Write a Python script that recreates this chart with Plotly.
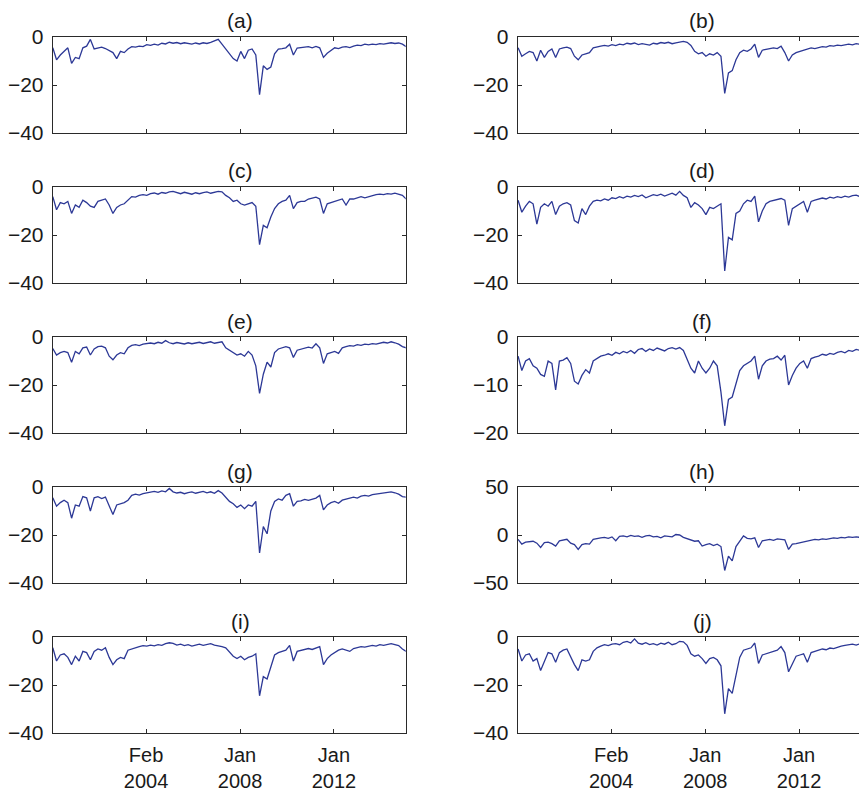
import plotly.graph_objects as go

# trading-day index of each sample (x axis), 95 samples
day_index = list(range(8, 3769, 40))

panel_labels = ["(a)", "(b)", "(c)", "(d)", "(e)", "(f)", "(g)", "(h)", "(i)", "(j)"]

x_tick_vals = [1000, 2000, 3000]
x_tick_text = ["Feb<br>2004", "Jan<br>2008", "Jan<br>2012"]

y_ticks_std = [-40, -20, 0]
y_ticks_f = [-20, -10, 0]
y_ticks_h = [-50, 0, 50]

series_a = [-4.5, -9.5, -7.5, -6.0, -4.5, -11.0, -8.5, -9.0, -4.5, -3.8, -1.0, -5.0, -4.5, -4.2, -4.8, -5.8, -6.5, -9.0, -6.0, -6.5,
            -5.0, -4.0, -4.2, -3.8, -4.0, -3.2, -3.5, -3.0, -3.4, -2.6, -2.9, -2.2, -2.6, -2.3, -2.8, -2.4, -2.7, -3.0, -2.5, -2.9,
            -2.4, -2.7, -2.2, -1.5, -1.0, -3.0, -5.0, -6.5, -9.0, -10.0, -6.0, -9.0, -5.5, -5.0, -7.5, -24.0, -12.0, -13.5, -12.5, -7.0,
            -5.0, -4.8, -4.5, -3.0, -7.5, -4.6, -4.5, -4.4, -4.0, -4.5, -3.9, -4.5, -8.5, -6.8, -5.5, -4.5, -4.8, -4.2, -4.0, -4.4,
            -3.8, -3.4, -3.6, -3.0, -3.3, -3.0, -3.2, -2.8, -3.0, -2.6, -2.4, -2.7, -2.5, -3.0, -4.0]

series_b = [-4.5, -8.0, -7.0, -6.0, -6.5, -10.0, -5.5, -8.5, -6.0, -5.0, -8.5, -5.0, -4.5, -4.2, -4.8, -8.0, -9.5, -7.5, -7.0, -6.5,
            -4.5, -4.0, -3.8, -3.5, -3.8, -3.2, -3.6, -3.0, -3.3, -2.6, -2.9, -2.5, -3.2, -2.8, -3.0, -3.4, -2.6, -2.9, -2.3, -2.6,
            -2.2, -2.8, -2.4, -2.0, -1.8, -2.2, -3.5, -6.0, -7.0, -6.5, -8.0, -7.0, -7.5, -6.5, -8.0, -23.5, -15.0, -14.0, -9.5, -6.5,
            -5.5, -6.0, -5.0, -3.0, -8.5, -5.5, -5.0, -4.8, -4.5, -4.8, -3.8, -6.5, -10.0, -7.5, -6.5, -6.0, -5.5, -4.8, -4.5, -4.8,
            -4.4, -4.0, -4.2, -3.6, -3.8, -3.4, -3.6, -3.2, -3.0, -3.3, -2.8, -3.0, -2.7, -3.2, -3.5]

series_c = [-4.0, -9.5, -6.5, -7.0, -6.0, -11.0, -7.5, -8.5, -5.5, -6.5, -8.0, -8.5, -6.0, -5.5, -5.0, -7.5, -11.0, -8.5, -7.5, -7.0,
            -5.5, -4.0, -4.2, -3.5, -3.2, -3.5, -2.8, -2.5, -3.0, -2.3, -2.6, -2.0, -1.8, -2.4, -2.8, -2.2, -2.5, -3.0, -2.4, -2.8,
            -2.3, -2.0, -2.6, -2.2, -1.8, -2.0, -3.5, -4.5, -6.0, -5.5, -7.0, -7.5, -7.0, -6.5, -8.0, -24.0, -16.0, -17.0, -12.5, -9.0,
            -7.0, -6.0, -5.5, -3.5, -9.0, -6.5, -6.0, -6.0, -5.0, -4.5, -4.2, -5.0, -11.0, -7.0, -6.5, -6.0, -5.5, -5.0, -7.5, -5.0,
            -5.0, -4.5, -4.0, -4.5, -4.0, -3.5, -3.2, -3.0, -3.2, -2.8, -3.0, -2.6, -3.0, -3.5, -5.0]

series_d = [-5.5, -10.5, -8.0, -6.0, -7.0, -15.5, -8.5, -7.0, -8.0, -6.0, -11.5, -8.0, -7.0, -6.5, -7.5, -14.0, -15.0, -9.0, -11.5, -8.0,
            -6.0, -5.5, -5.8, -5.0, -5.5, -4.5, -4.8, -4.0, -4.6, -3.8, -4.2, -3.5, -4.0, -3.3, -4.5, -3.8, -3.2, -3.6, -3.0, -3.8,
            -3.2, -2.6, -3.4, -1.8, -3.5, -4.5, -8.5, -6.5, -7.5, -9.0, -11.5, -8.5, -9.0, -8.0, -7.0, -35.0, -21.0, -22.0, -11.0, -10.0,
            -7.0, -5.5, -6.0, -3.8, -14.5, -10.0, -7.0, -6.0, -5.5, -5.0, -4.8, -5.5, -16.0, -9.0, -8.0, -7.0, -6.0, -10.5, -6.0, -5.5,
            -5.0, -4.6, -5.0, -4.2, -4.6, -4.0, -4.4, -3.8, -4.2, -3.6, -3.4, -4.0, -3.2, -3.8, -4.5]

series_e = [-4.8, -7.5, -6.5, -6.0, -6.5, -10.5, -6.0, -7.0, -4.5, -4.2, -7.5, -5.0, -4.0, -3.8, -4.5, -8.0, -9.5, -7.5, -6.5, -7.0,
            -4.5, -3.5, -3.2, -3.6, -3.0, -2.8, -2.5, -2.8, -2.2, -2.6, -1.5, -2.4, -2.8, -2.3, -2.6, -2.9, -2.4, -2.8, -2.5, -2.2,
            -2.7, -2.3, -2.0, -2.6, -2.2, -2.0, -4.5, -5.5, -6.5, -7.5, -7.0, -8.0, -6.0, -7.5, -12.0, -23.5, -15.5, -10.5, -12.5, -6.5,
            -5.0, -4.5, -4.0, -4.5, -8.5, -5.5, -5.0, -4.5, -4.2, -4.6, -2.8, -4.5, -11.0, -7.0, -6.5, -6.0, -6.8, -4.5, -4.0, -3.6,
            -3.8, -3.2, -3.5, -3.0, -3.2, -2.8, -3.0, -2.5, -2.2, -2.5, -2.0, -2.4, -3.0, -4.0, -4.5]

series_f = [-4.0, -7.0, -5.0, -4.5, -6.0, -6.5, -7.8, -8.2, -5.0, -5.5, -11.0, -5.0, -4.8, -4.3, -5.5, -9.2, -9.8, -8.0, -6.8, -7.5,
            -5.0, -4.5, -4.0, -3.8, -3.5, -3.8, -3.2, -3.5, -3.0, -3.3, -2.8, -3.4, -2.6, -2.4, -3.0, -2.5, -2.8, -2.3, -2.6, -2.9,
            -2.4, -2.2, -2.5, -2.2, -2.8, -4.5, -6.5, -7.5, -5.0, -6.5, -7.5, -6.5, -5.0, -6.0, -11.5, -18.5, -13.0, -12.5, -9.5, -7.0,
            -6.0, -5.5, -5.0, -4.0, -8.8, -6.0, -5.0, -4.6, -4.5, -4.0, -4.8, -3.8, -10.0, -8.0, -6.5, -5.5, -5.0, -6.5, -4.5, -4.2,
            -4.0, -3.6, -3.8, -3.4, -3.6, -3.2, -3.0, -3.3, -2.8, -3.0, -2.6, -2.8, -5.0, -3.2, -3.5]

series_g = [-4.5, -8.0, -6.5, -5.5, -6.5, -13.0, -7.5, -8.0, -4.0, -4.5, -10.0, -4.5, -4.0, -4.8, -4.2, -7.5, -11.5, -7.5, -7.0, -6.5,
            -5.5, -3.5, -3.0, -3.4, -2.8, -2.4, -2.0, -1.8, -2.2, -1.6, -2.0, -0.6, -2.0, -2.5, -2.2, -2.8, -2.3, -2.0, -2.6, -2.2,
            -1.8, -2.4, -2.0, -2.6, -1.5, -2.5, -4.5, -6.0, -7.0, -8.5, -7.5, -9.0, -7.5, -8.0, -6.0, -27.5, -16.5, -19.5, -10.0, -6.0,
            -5.0, -5.5, -3.5, -2.8, -8.0, -6.0, -5.8, -5.2, -5.6, -5.0, -4.6, -3.5, -9.5, -7.5, -6.5, -6.0, -6.8, -5.5, -5.0, -4.6,
            -4.2, -4.6, -3.8, -3.5, -3.8, -3.2, -3.0, -2.8, -2.5, -2.2, -2.0, -2.4, -3.0, -4.0, -4.2]

series_h = [-4.5, -9.5, -7.5, -7.0, -6.5, -8.5, -13.0, -8.0, -7.5, -9.0, -11.5, -6.0, -5.5, -4.5, -8.5, -10.0, -15.0, -10.0, -9.0, -9.5,
            -4.5, -3.5, -3.0, -2.5, -3.5, -2.0, -6.0, -1.5, -1.0, -2.0, -0.5, -1.5, -1.0, -2.5, -1.0, -0.5, -2.0, -1.5, -3.0, -1.0,
            -1.5, -2.0, 0.5, 0.0, -2.5, -4.0, -5.0, -6.5, -6.0, -11.5, -10.0, -9.0, -11.0, -9.5, -12.0, -37.0, -22.0, -27.0, -12.0, -6.0,
            -1.0, -3.5, -4.0, -3.0, -13.0, -6.0, -5.0, -4.5, -5.5, -4.0, -4.5, -5.0, -15.0, -9.5, -9.0, -8.0, -7.5, -6.0, -5.0, -4.5,
            -5.0, -4.0, -4.5, -3.5, -3.0, -3.5, -2.5, -3.0, -2.0, -2.5, -2.0, -2.5, -3.0, -3.5, -4.0]

series_i = [-4.5, -10.0, -7.5, -7.0, -8.5, -11.5, -8.0, -10.0, -6.0, -6.5, -9.5, -6.0, -5.0, -5.5, -4.5, -8.5, -11.5, -9.5, -8.5, -9.0,
            -5.5, -5.0, -4.2, -4.0, -3.6, -3.8, -3.4, -3.7, -3.2, -3.5, -2.8, -2.4, -2.7, -3.4, -3.0, -3.6, -3.2, -3.8, -3.4, -3.0,
            -3.5, -3.2, -2.8, -3.4, -3.6, -4.0, -4.5, -6.5, -8.0, -9.0, -8.0, -9.5, -8.5, -8.0, -7.0, -24.5, -16.5, -17.5, -12.0, -7.5,
            -6.5, -6.0, -5.5, -3.5, -10.0, -6.0, -5.5, -5.0, -4.8, -5.2, -4.5, -4.0, -11.5, -9.0, -7.5, -6.5, -5.5, -5.0, -5.5, -6.0,
            -4.8, -4.5, -4.0, -4.2, -3.8, -3.5, -3.8, -3.2, -3.5, -3.0, -2.8, -3.2, -3.6, -5.0, -6.0]

series_j = [-5.0, -10.0, -7.5, -7.0, -10.0, -9.0, -14.0, -10.0, -6.5, -7.0, -10.5, -6.5, -5.5, -5.0, -8.5, -11.5, -14.0, -9.5, -10.0, -9.5,
            -6.0, -4.5, -3.8, -3.2, -3.6, -3.0, -2.8, -3.2, -2.2, -1.8, -2.5, -0.8, -2.6, -3.0, -2.4, -3.2, -2.8, -3.4, -2.6, -3.0,
            -2.2, -3.2, -2.8, -1.8, -2.0, -3.5, -7.0, -8.0, -7.5, -9.0, -11.0, -9.0, -8.5, -9.5, -12.0, -32.0, -21.5, -23.5, -16.0, -8.5,
            -5.5, -5.0, -4.5, -2.5, -11.0, -7.5, -7.0, -6.5, -6.0, -5.5, -4.0, -6.5, -14.5, -11.0, -8.0, -7.5, -7.0, -10.5, -6.5, -6.0,
            -5.5, -5.0, -5.3, -4.6, -4.8, -4.2, -3.8, -3.5, -3.2, -3.0, -3.4, -2.8, -3.0, -3.8, -4.0]

all_series = [series_a, series_b, series_c, series_d, series_e, series_f, series_g, series_h, series_i, series_j]
y_ticks_per_panel = [y_ticks_std] * 5 + [y_ticks_f] + [y_ticks_std] + [y_ticks_h] + [y_ticks_std] * 2


def fmt_tick(v):
    return ("\u2212" + str(abs(v))) if v < 0 else str(v)


# the page places the figure 8 px in from the top-left corner of the window
OFF = 8
W, H = 867 - OFF, 793 - OFF
LINE_COLOR = "#2C3896"
AX_COLOR = "#2a2a2a"
FONT = dict(family="Liberation Sans, Arial, Helvetica, sans-serif", size=21, color="#1a1a1a")
XFONT = dict(family="Liberation Sans, Arial, Helvetica, sans-serif", size=20, color="#1a1a1a")

# layout positions in window pixels
col_px = [(52.7, 405.7), (517.7, 867.0)]
x_ranges = [[7, 3763], [4, 3723]]
title_px = [240, 702]
row_top = [37 + 150 * k for k in range(5)]
row_bot = [133 + 150 * k for k in range(5)]

fig = go.Figure()
annotations = []
layout_axes = {}

for n, (lab, ser, yt) in enumerate(zip(panel_labels, all_series, y_ticks_per_panel)):
    r, c = divmod(n, 2)
    k = n + 1
    xname = "x" if k == 1 else f"x{k}"
    yname = "y" if k == 1 else f"y{k}"
    fig.add_trace(go.Scatter(x=day_index, y=ser, mode="lines", xaxis=xname, yaxis=yname,
                             line=dict(color=LINE_COLOR, width=1.3), showlegend=False,
                             hoverinfo="skip"))
    xdom = [(col_px[c][0] - OFF) / W, min(1.0, (col_px[c][1] - OFF) / W)]
    ydom = [1 - (row_bot[r] - OFF) / H, 1 - (row_top[r] - OFF) / H]
    layout_axes["xaxis" if k == 1 else f"xaxis{k}"] = dict(
        domain=xdom, anchor=yname, range=x_ranges[c], automargin=False,
        showgrid=False, zeroline=False, showline=True, linecolor=AX_COLOR, linewidth=1,
        mirror="ticks", ticks="inside", ticklen=4, tickcolor=AX_COLOR, tickwidth=1,
        tickvals=x_tick_vals, ticktext=x_tick_text,
        showticklabels=(r == 4), tickfont=XFONT, ticklabelstandoff=4,
    )
    layout_axes["yaxis" if k == 1 else f"yaxis{k}"] = dict(
        domain=ydom, anchor=xname, range=[yt[0], yt[-1]], automargin=False,
        showgrid=False, zeroline=False, showline=True, linecolor=AX_COLOR, linewidth=1,
        mirror=("ticks" if c == 0 else False), ticks="inside", ticklen=4, tickcolor=AX_COLOR, tickwidth=1,
        tickvals=yt, ticktext=[fmt_tick(v) for v in yt],
        tickfont=FONT, ticklabelstandoff=4,
    )
    annotations.append(dict(text=lab, xref="paper", yref="paper",
                            x=(title_px[c] - OFF) / W, y=1 - (row_top[r] - 16 - OFF) / H,
                            xanchor="center", yanchor="middle", showarrow=False, font=FONT))

fig.update_layout(width=W, height=H, margin=dict(l=0, r=0, t=0, b=0, autoexpand=False),
                  paper_bgcolor="white", plot_bgcolor="white", template="none",
                  annotations=annotations, **layout_axes)

fig.write_html("out.html")
